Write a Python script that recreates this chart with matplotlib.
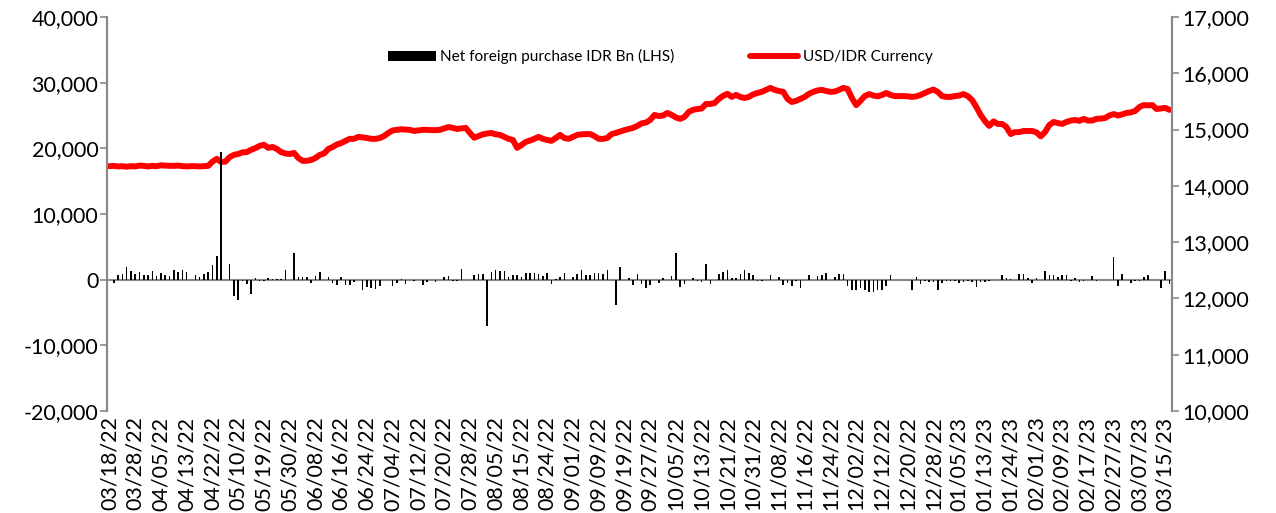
import numpy as np
import matplotlib
matplotlib.use('Agg')
import matplotlib.pyplot as plt
from matplotlib.patches import Patch
from matplotlib.lines import Line2D
from matplotlib.ticker import FuncFormatter

plt.rcParams['font.family'] = ['Lato', 'DejaVu Sans']

# net foreign purchase, IDR bn (LHS), one value per trading day
net_foreign = [
    0, -500, 760, 860, 1930, 1270, 910, 1170, 660, 760, 1320, 610,
    960, 760, 560, 1420, 1120, 1520, 1220, 0, 710, 460, 860, 1220,
    2280, 3550, 19370, 0, 2430, -2430, -3140, -250, -610, -2230, 200, -250,
    -200, 200, 100, 100, 100, 1420, 0, 4110, 400, 400, 450, -560,
    610, 1220, -50, 450, -500, -760, 450, -760, -810, -400, 0, -1620,
    -1170, -1300, -1400, -1000, 0, 0, -1000, -500, 100, -600, 0, -200,
    0, -860, -400, 0, -400, 0, 400, 600, -250, -250, 1670, 0,
    0, 760, 910, 910, -7000, 1220, 1470, 1270, 1370, 350, 760, 760,
    350, 1060, 1060, 1060, 910, 500, 1060, -600, 100, 350, 1000, 0,
    400, 910, 1520, 700, 760, 1060, 1060, 810, 1420, 0, -3850, 1980,
    0, 200, -810, 880, -660, -1270, -860, 0, -500, 250, 0, 610,
    4060, -1170, -610, 0, 200, -200, -300, 2430, -610, 0, 910, 1170,
    1420, 300, 200, 860, 1470, 1060, 660, -250, -250, -100, 660, -100,
    400, -810, -500, -1000, -250, -1270, 0, 710, 0, 500, 710, 1010,
    0, 400, 860, 860, -1010, -1620, -1620, -1270, -1620, -1880, -1830, -1620,
    -1520, -1010, 660, -100, -100, 0, 0, -1520, 350, -660, -200, -300,
    -350, -1620, -500, -150, -250, -150, -500, -350, -150, -350, -1170, -350,
    -350, -250, 0, 0, 660, 250, 150, 0, 860, 910, 200, -500,
    200, 0, 1270, 760, 760, 400, 760, 760, -250, 200, -350, -250,
    0, 500, -200, 0, 0, 0, 3450, -1010, 860, 0, -500, -150,
    -250, 400, 660, 0, 0, -1270, 1370, -660,
]

# USD/IDR (RHS)
usd_idr = [
    14350, 14355, 14345, 14350, 14340, 14350, 14345, 14360, 14355, 14345, 14355, 14350,
    14365, 14360, 14355, 14355, 14360, 14350, 14345, 14350, 14350, 14345, 14350, 14355,
    14430, 14480, 14425, 14430, 14510, 14550, 14567, 14595, 14600, 14640, 14670, 14710,
    14730, 14675, 14690, 14655, 14600, 14575, 14565, 14585, 14495, 14445, 14445, 14460,
    14495, 14550, 14575, 14655, 14690, 14735, 14760, 14800, 14835, 14835, 14870, 14860,
    14850, 14835, 14835, 14850, 14885, 14940, 14985, 14995, 15005, 15000, 14995, 14975,
    14985, 14995, 14995, 14990, 14990, 14995, 15020, 15045, 15030, 15010, 15020, 15030,
    14940, 14855, 14885, 14915, 14930, 14940, 14915, 14905, 14870, 14835, 14815, 14675,
    14725, 14780, 14805, 14835, 14870, 14835, 14815, 14800, 14850, 14905, 14850, 14835,
    14870, 14905, 14915, 14920, 14920, 14885, 14835, 14835, 14850, 14920, 14940, 14965,
    14990, 15010, 15030, 15065, 15110, 15125, 15170, 15260, 15240, 15250, 15295, 15260,
    15215, 15190, 15225, 15315, 15350, 15365, 15375, 15455, 15455, 15470, 15545, 15600,
    15635, 15580, 15615, 15580, 15560, 15580, 15625, 15650, 15670, 15705, 15740, 15705,
    15685, 15670, 15545, 15490, 15510, 15545, 15580, 15635, 15670, 15695, 15705, 15685,
    15670, 15675, 15705, 15740, 15720, 15560, 15435, 15510, 15595, 15630, 15605, 15590,
    15615, 15650, 15615, 15595, 15595, 15595, 15590, 15580, 15590, 15615, 15650, 15685,
    15710, 15670, 15595, 15580, 15580, 15595, 15605, 15630, 15595, 15525, 15400, 15260,
    15150, 15065, 15145, 15100, 15100, 15045, 14920, 14955, 14955, 14975, 14975, 14975,
    14950, 14880, 14955, 15080, 15135, 15115, 15100, 15135, 15160, 15170, 15155, 15190,
    15160, 15160, 15190, 15195, 15205, 15250, 15275, 15250, 15270, 15295, 15305, 15330,
    15400, 15435, 15430, 15435, 15365, 15375, 15385, 15350,
]

# every 6th trading day is labelled
date_labels = [
    '03/18/22', '03/28/22', '04/05/22', '04/13/22', '04/22/22', '05/10/22',
    '05/19/22', '05/30/22', '06/08/22', '06/16/22', '06/24/22', '07/04/22',
    '07/12/22', '07/20/22', '07/28/22', '08/05/22', '08/15/22', '08/24/22',
    '09/01/22', '09/09/22', '09/19/22', '09/27/22', '10/05/22', '10/13/22',
    '10/21/22', '10/31/22', '11/08/22', '11/16/22', '11/24/22', '12/02/22',
    '12/12/22', '12/20/22', '12/28/22', '01/05/23', '01/13/23', '01/24/23',
    '02/01/23', '02/09/23', '02/17/23', '02/27/23', '03/07/23', '03/15/23',
]

x = np.arange(len(usd_idr))
grey = '#898989'
fs = 15.5

fig = plt.figure(figsize=(12.76, 5.13), dpi=100)
ax = fig.add_axes([0.0841, 0.1988, 0.8341, 0.7681])
ax2 = ax.twinx()

ax2.plot(x, usd_idr, color='#FF0000', lw=4.3, solid_capstyle='round', solid_joinstyle='round')
ax.bar(x, net_foreign, width=0.36, color='black')

# bars on top of the line, as in the original
ax.set_zorder(ax2.get_zorder() + 1)
ax.patch.set_visible(False)

ax.set_xlim(-0.5, len(x) - 0.5)
ax.set_ylim(-20000, 40000)
ax.set_yticks(np.arange(-20000, 40001, 10000))
ax2.set_ylim(10000, 17000)
ax2.set_yticks(np.arange(10000, 17001, 1000))
comma = FuncFormatter(lambda v, p: f'{v:,.0f}')
ax.yaxis.set_major_formatter(comma)
ax2.yaxis.set_major_formatter(comma)

ax.axhline(0, color=grey, lw=1.5, zorder=0)

ax.set_xticks(x[::6])
ax.set_xticklabels(date_labels, rotation=90, fontsize=fs)
ax.tick_params(axis='x', length=0, pad=4)
ax.tick_params(axis='y', labelsize=fs, length=5, width=1.2, color=grey, pad=1.5)
ax2.tick_params(axis='y', labelsize=fs, length=5, width=1.2, color=grey, pad=3)

for a in (ax, ax2):
    a.spines['top'].set_visible(False)
    a.spines['bottom'].set_visible(False)
    a.spines['left'].set_color(grey)
    a.spines['right'].set_color(grey)
    a.spines['left'].set_linewidth(1.5)
    a.spines['right'].set_linewidth(1.5)

handles = [Patch(facecolor='black', edgecolor='none'),
           Line2D([], [], color='#FF0000', lw=4.3, solid_capstyle='round')]
fig.legend(handles, ['Net foreign purchase IDR Bn (LHS)', 'USD/IDR Currency'],
           loc='center', bbox_to_anchor=(0.5175, 0.889), ncol=2, frameon=False,
           fontsize=11.1, handlelength=3.1, handleheight=0.65, handletextpad=0.3,
           columnspacing=4.9)

fig.savefig('out.png', dpi=100)
